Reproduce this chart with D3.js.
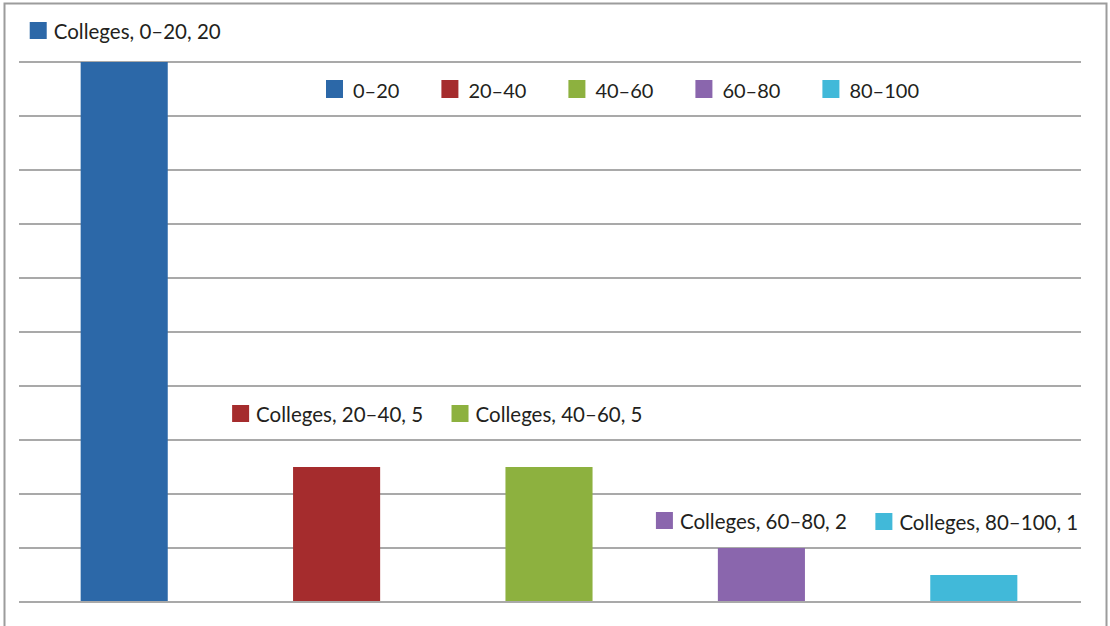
<!DOCTYPE html>
<html>
<head>
<meta charset="utf-8">
<script src="https://cdn.jsdelivr.net/npm/d3@7"></script>
<style>
  html, body { margin: 0; padding: 0; background: #fff; }
  svg { display: block; }
  text { font-family: "Gill Sans", Lato, "Open Sans", sans-serif; fill: #231f20; }
</style>
</head>
<body>
<script>
// ---- data ----
const categories = ["0–20", "20–40", "40–60", "60–80", "80–100"];
const seriesName = "Colleges";
const values = [20, 5, 5, 2, 1];
const colors = ["#2c68a8", "#a52c2d", "#8db13f", "#8a66ad", "#41b9d9"];
const yTicks = [0, 2, 4, 6, 8, 10, 12, 14, 16, 18, 20];

// ---- layout ----
const W = 1110, H = 626;
const plot = { left: 19, right: 1081, top: 62, bottom: 602 };
const labelFont = 20.5, legendFont = 20;
// label nudges (pixels) relative to bar centre / bar top
const labelDx = [0, -10, -3, -11, 2];
const labelDy = [-23, -45, -45, -19, -45];

const svg = d3.select("body").append("svg").attr("width", W).attr("height", H);

// outer border
svg.append("rect")
  .attr("x", 4.5).attr("y", 3.5)
  .attr("width", 1102).attr("height", 640)
  .attr("fill", "none").attr("stroke", "#9c9c9c").attr("stroke-width", 2);

const x = d3.scaleBand().domain(categories).range([plot.left, plot.right]).paddingInner(0).paddingOuter(0);
const y = d3.scaleLinear().domain([0, 20]).range([plot.bottom, plot.top]);
const barW = x.bandwidth() * 0.41;

// gridlines
svg.append("g").selectAll("line").data(yTicks).join("line")
  .attr("x1", plot.left).attr("x2", plot.right)
  .attr("y1", d => y(d)).attr("y2", d => y(d))
  .attr("stroke", "#a9a9a9").attr("stroke-width", 2);

// bars
svg.append("g").selectAll("rect").data(values).join("rect")
  .attr("x", (d, i) => x(categories[i]) + x.bandwidth() / 2 - barW / 2 - 1)
  .attr("width", barW)
  .attr("y", d => y(d))
  .attr("height", d => y(0) - y(d) - 1)
  .attr("fill", (d, i) => colors[i]);

// data labels with legend keys
const key = 17, gap = 7;
values.forEach((v, i) => {
  const g = svg.append("g");
  const t = g.append("text")
    .attr("font-size", labelFont)
    .text(`${seriesName}, ${categories[i]}, ${v}`);
  const tw = t.node().getComputedTextLength();
  const total = key + gap + tw;
  const cx = x(categories[i]) + x.bandwidth() / 2 + labelDx[i];
  const base = y(v) + labelDy[i];
  const x0 = cx - total / 2;
  g.append("rect").attr("x", x0).attr("y", base - key).attr("width", key).attr("height", key).attr("fill", colors[i]);
  t.attr("x", x0 + key + gap).attr("y", base);
});

// top legend
let lx = 326;
const ly = 98;
categories.forEach((c, i) => {
  svg.append("rect").attr("x", lx).attr("y", ly - 18).attr("width", 17).attr("height", 18).attr("fill", colors[i]);
  const t = svg.append("text").attr("x", lx + 27).attr("y", ly).attr("font-size", legendFont).text(c);
  lx += 27 + t.node().getComputedTextLength() + 42;
});
</script>
</body>
</html>
